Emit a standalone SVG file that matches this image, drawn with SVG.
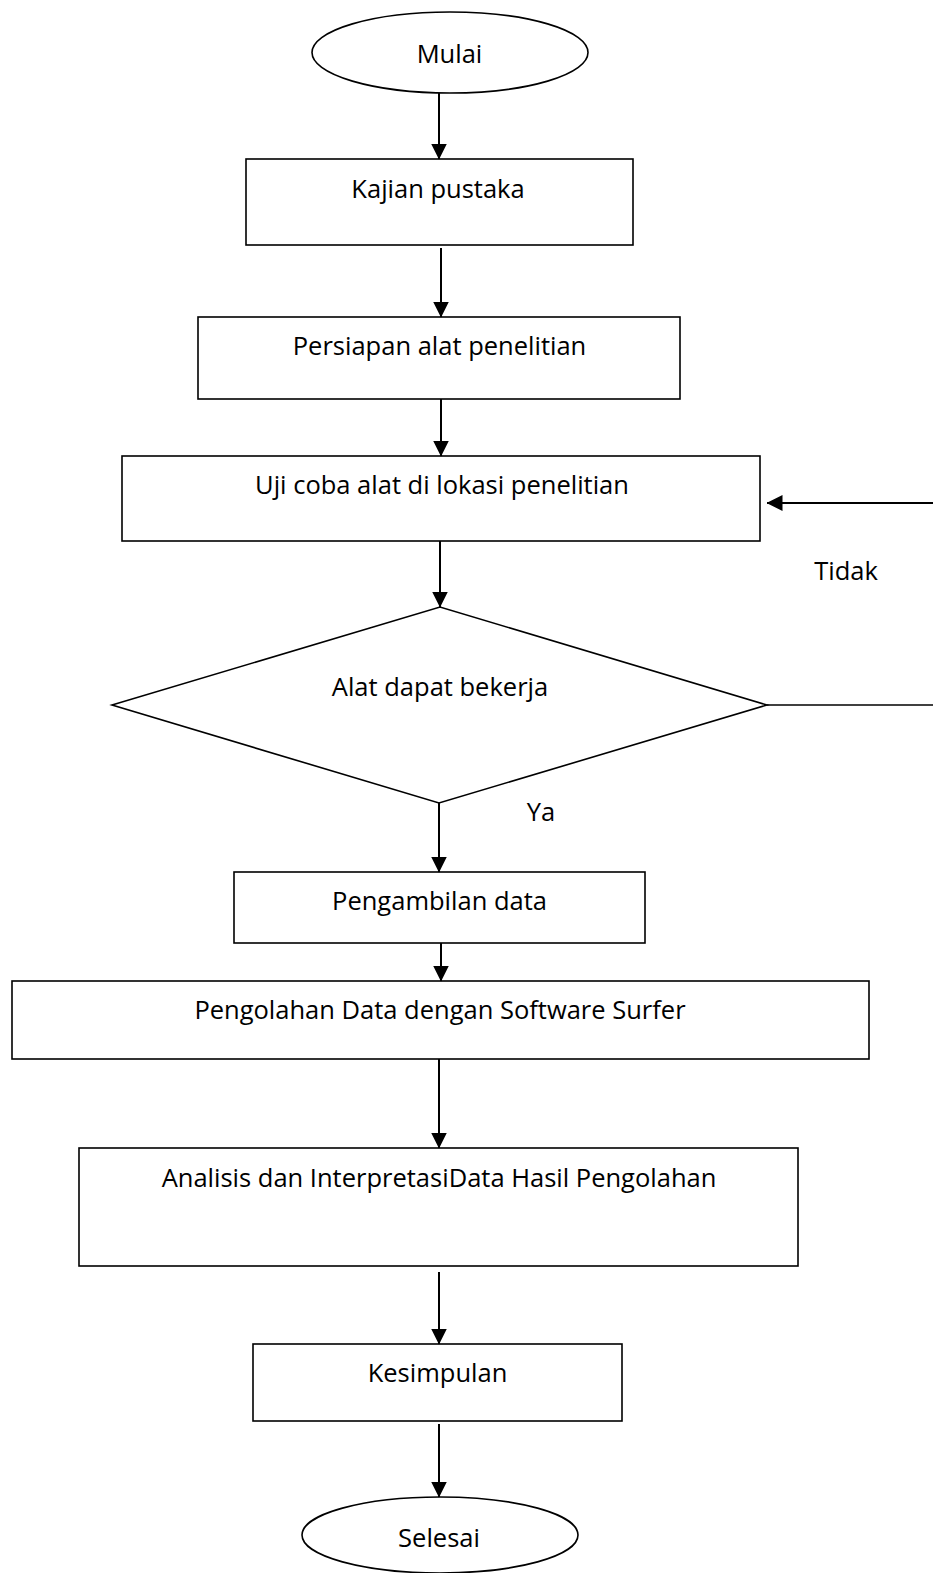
<svg xmlns="http://www.w3.org/2000/svg" width="933" height="1573" viewBox="0 0 933 1573">
<style>
.s{fill:#fff;stroke:#000;stroke-width:1.6}
.c{fill:none;stroke:#000;stroke-width:2}
text{font-family:"Open Sans","Liberation Sans",sans-serif;font-size:25.5px;fill:#000;text-anchor:middle}
</style>
<defs>
<marker id="ah" viewBox="0 0 16 17" refX="15.5" refY="8" markerWidth="16" markerHeight="17" markerUnits="userSpaceOnUse" orient="auto">
<path d="M0,0 L16,8 L0,16 Z" fill="#000"/>
</marker>
</defs>
<rect width="933" height="1573" fill="#fff"/>
<g id="mulai"><ellipse class="s" cx="450" cy="52.5" rx="138" ry="40.5"/><text x="449.5" y="62.5">Mulai</text></g>
<g id="kajian"><rect class="s" x="246" y="159" width="387" height="86"/><text x="438" y="198">Kajian pustaka</text></g>
<g id="persiapan"><rect class="s" x="198" y="317" width="482" height="82"/><text x="439.5" y="355">Persiapan alat penelitian</text></g>
<g id="ujicoba"><rect class="s" x="122" y="456" width="638" height="85"/><text x="442" y="494">Uji coba alat di lokasi penelitian</text></g>
<g id="keputusan"><polygon class="s" points="112,705 440,607 767,705 439,803"/><text x="440" y="696">Alat dapat bekerja</text></g>
<g id="pengambilan"><rect class="s" x="234" y="872" width="411" height="71"/><text x="439.5" y="910">Pengambilan data</text></g>
<g id="pengolahan"><rect class="s" x="12" y="981" width="857" height="78"/><text x="440" y="1019">Pengolahan Data dengan Software Surfer</text></g>
<g id="analisis"><rect class="s" x="79" y="1148" width="719" height="118"/><text x="439" y="1187">Analisis dan InterpretasiData Hasil Pengolahan</text></g>
<g id="kesimpulan"><rect class="s" x="253" y="1344" width="369" height="77"/><text x="437.5" y="1382">Kesimpulan</text></g>
<g id="selesai"><ellipse class="s" cx="440" cy="1535" rx="138" ry="38"/><text x="439" y="1547">Selesai</text></g>
<g id="connectors">
<line class="c" x1="439" y1="93" x2="439" y2="159" marker-end="url(#ah)"/>
<line class="c" x1="441" y1="248" x2="441" y2="317" marker-end="url(#ah)"/>
<line class="c" x1="441" y1="399" x2="441" y2="456" marker-end="url(#ah)"/>
<line class="c" x1="440" y1="541" x2="440" y2="607" marker-end="url(#ah)"/>
<line class="c" x1="439" y1="803" x2="439" y2="872" marker-end="url(#ah)"/>
<line class="c" x1="441" y1="943" x2="441" y2="981" marker-end="url(#ah)"/>
<line class="c" x1="439" y1="1059" x2="439" y2="1148" marker-end="url(#ah)"/>
<line class="c" x1="439" y1="1272" x2="439" y2="1344" marker-end="url(#ah)"/>
<line class="c" x1="439" y1="1424" x2="439" y2="1497" marker-end="url(#ah)"/>
<line class="c" x1="767" y1="705" x2="933" y2="705" style="stroke-width:1.6"/>
<line class="c" x1="933" y1="503" x2="767" y2="503" marker-end="url(#ah)"/>
<text x="846" y="580">Tidak</text>
<text x="541" y="821">Ya</text>
</g>
</svg>
